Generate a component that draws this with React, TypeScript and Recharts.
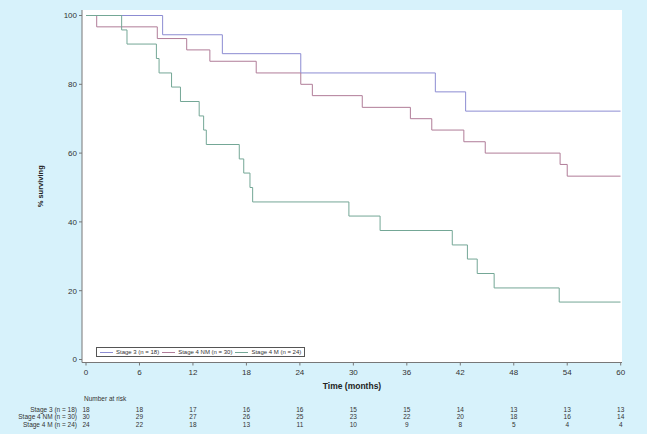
import React from 'react';
import { LineChart, Line, XAxis, YAxis, CartesianGrid, Legend } from 'recharts';

const monthTicks = [0, 6, 12, 18, 24, 30, 36, 42, 48, 54, 60];
const survTicks = [0, 20, 40, 60, 80, 100];
const seriesNames = ['Stage 3 (n = 18)', 'Stage 4 NM (n = 30)', 'Stage 4 M (n = 24)'];
const seriesColors = ['#8c8cd2', '#b07c98', '#74a796'];

const stage3Time = [0, 8.6, 15.3, 24.1, 39.2, 42.6, 60];
const stage3Surv = [100, 94.4, 88.9, 83.3, 77.8, 72.2, 72.2];

const stage4NMTime = [0, 1.2, 8.0, 11.3, 13.9, 19.1, 24.1, 25.4, 31.0, 36.4, 38.8, 42.4, 44.8, 53.2, 54.0, 60];
const stage4NMSurv = [100, 96.7, 93.3, 90.0, 86.7, 83.3, 80.0, 76.7, 73.3, 70.0, 66.7, 63.3, 60.0, 56.7, 53.3, 53.3];

const stage4MTime = [0, 4.0, 4.6, 7.9, 8.2, 9.6, 10.6, 12.7, 13.2, 13.5, 17.2, 17.7, 18.4, 18.7, 29.5, 33.0, 41.1, 42.8, 43.9, 45.8, 53.1, 60];
const stage4MSurv = [100, 95.8, 91.7, 87.5, 83.3, 79.2, 75.0, 70.8, 66.7, 62.5, 58.3, 54.2, 50.0, 45.8, 41.7, 37.5, 33.3, 29.2, 25.0, 20.8, 16.7, 16.7];

const riskStage3 = [18, 18, 17, 16, 16, 15, 15, 14, 13, 13, 13];
const riskStage4NM = [30, 29, 27, 26, 25, 23, 22, 20, 18, 16, 14];
const riskStage4M = [24, 22, 18, 13, 11, 10, 9, 8, 5, 4, 4];

const toSeries = (t: number[], s: number[]) => t.map((v, i) => ({ t: v, s: s[i] }));
const seriesData = [
  toSeries(stage3Time, stage3Surv),
  toSeries(stage4NMTime, stage4NMSurv),
  toSeries(stage4MTime, stage4MSurv),
];
const riskRows = [riskStage3, riskStage4NM, riskStage4M];

const FONT = '"Liberation Sans", Arial, Helvetica, sans-serif';
const BG = '#d7f2fb';
const AXIS = '#777777';
const TEXT = '#333333';

const XTick = (props: any) => {
  const { x, y, payload } = props;
  const i = monthTicks.indexOf(payload.value);
  return (
    <g>
      <text x={x} y={y} dy="0.71em" textAnchor="middle" fontSize={8} fill={TEXT} fontFamily={FONT}>
        {payload.value}
      </text>
      {riskRows.map((row, r) => (
        <text key={r} x={x} y={y + 42 + r * 7.6} textAnchor="middle" fontSize={6.5} fill={TEXT} fontFamily={FONT}>
          {row[i]}
        </text>
      ))}
      {i === 0 && (
        <g>
          <text x={x - 2} y={y + 31} textAnchor="start" fontSize={6.5} fill={TEXT} fontFamily={FONT}>
            Number at risk
          </text>
          {seriesNames.map((n, r) => (
            <text key={r} x={x - 9} y={y + 42 + r * 7.6} textAnchor="end" fontSize={6.5} fill={TEXT} fontFamily={FONT}>
              {n}
            </text>
          ))}
        </g>
      )}
    </g>
  );
};

const LegendBox = () => (
  <div
    style={{
      display: 'flex',
      alignItems: 'center',
      border: '1px solid #555',
      background: '#fff',
      padding: '0 3px',
      height: 10,
      boxSizing: 'border-box',
      fontFamily: FONT,
      fontSize: 6,
      color: TEXT,
      whiteSpace: 'nowrap',
    }}
  >
    {seriesNames.map((n, i) => (
      <div key={n} style={{ display: 'flex', alignItems: 'center', marginRight: i < 2 ? 3 : 0 }}>
        <div style={{ width: 13, height: 1, background: seriesColors[i], marginRight: 3 }} />
        <span>{n}</span>
      </div>
    ))}
  </div>
);

export default function App() {
  return (
    <div style={{ position: 'fixed', left: 0, top: 0, width: 647, height: 434, background: BG }}>
      <LineChart
        width={647}
        height={434}
        margin={{ top: 10, right: 25, bottom: 51.5, left: 0 }}
        style={{ fontFamily: FONT }}
      >
        <CartesianGrid fill="#ffffff" stroke="none" vertical={false} horizontal={false} />
        <XAxis
          dataKey="t"
          type="number"
          domain={[0, 60]}
          ticks={monthTicks}
          allowDataOverflow
          height={20}
          padding={{ left: 4, right: 1.3 }}
          stroke={AXIS}
          tickSize={3}
          tickMargin={4}
          tick={<XTick />}
          label={{ value: 'Time (months)', position: 'bottom', offset: 0, fontSize: 8.5, fontWeight: 'bold', fill: '#222', fontFamily: FONT }}
        />
        <YAxis
          type="number"
          domain={[0, 100]}
          ticks={survTicks}
          width={82}
          padding={{ top: 5.5, bottom: 3 }}
          stroke={AXIS}
          tickSize={3}
          tickMargin={2}
          tick={{ fontSize: 8, fill: TEXT, fontFamily: FONT }}
          label={(p: any) => {
            const vb = p.viewBox || {};
            const cx = 40;
            const cy = (vb.y || 0) + (vb.height || 0) / 2;
            return (
              <text x={cx} y={cy} transform={`rotate(-90, ${cx}, ${cy})`} textAnchor="middle" dominantBaseline="central" fontSize={7.5} fontWeight="bold" fill="#222" fontFamily={FONT}>
                % surviving
              </text>
            );
          }}
        />
        <Legend
          layout="horizontal"
          verticalAlign="middle"
          align="center"
          content={<LegendBox />}
          wrapperStyle={{ position: 'absolute', left: 96, top: 347, width: 'auto', bottom: 'auto', right: 'auto' }}
        />
        {seriesData.map((d, i) => (
          <Line
            key={seriesNames[i]}
            name={seriesNames[i]}
            data={d}
            dataKey="s"
            type="stepAfter"
            stroke={seriesColors[i]}
            strokeWidth={1}
            dot={false}
            activeDot={false}
            isAnimationActive={false}
          />
        ))}
      </LineChart>
    </div>
  );
}
